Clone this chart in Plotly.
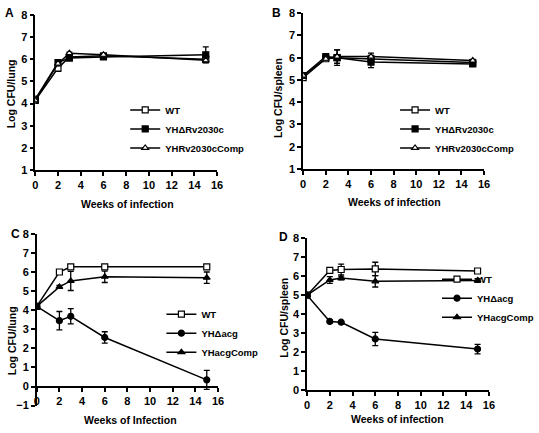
import plotly.graph_objects as go

weeks = [0, 2, 3, 6, 15]

# Panel A (lung)
a_wt = [4.15, 5.6, 6.1, 6.15, 6.0]
a_wt_err = [0.05, 0.15, 0.05, 0.08, 0.15]
a_del = [4.2, 5.85, 6.05, 6.1, 6.2]
a_del_err = [0.05, 0.08, 0.05, 0.05, 0.35]
a_comp = [4.15, 5.8, 6.27, 6.2, 5.95]
a_comp_err = [0.05, 0.1, 0.05, 0.05, 0.1]

# Panel B (spleen)
b_wt = [5.1, 5.95, 6.0, 5.95, 5.78]
b_wt_err = [0.05, 0.05, 0.35, 0.15, 0.05]
b_del = [5.2, 6.05, 6.0, 5.8, 5.72]
b_del_err = [0.05, 0.05, 0.1, 0.25, 0.05]
b_comp = [5.2, 5.95, 6.05, 6.05, 5.87]
b_comp_err = [0.05, 0.05, 0.3, 0.15, 0.05]

# Panel C (lung)
c_wt = [4.2, 6.0, 6.27, 6.27, 6.27]
c_wt_err = [0.05, 0.05, 0.05, 0.05, 0.1]
c_del = [4.2, 3.45, 3.68, 2.57, 0.35]
c_del_err = [0.05, 0.48, 0.4, 0.3, 0.5]
c_comp = [4.2, 5.22, 5.53, 5.75, 5.7]
c_comp_err = [0.05, 0.08, 0.5, 0.3, 0.3]

# Panel D (spleen)
d_wt = [5.0, 6.3, 6.35, 6.38, 6.27]
d_wt_err = [0.05, 0.05, 0.28, 0.35, 0.1]
d_del = [5.0, 3.62, 3.58, 2.7, 2.17]
d_del_err = [0.05, 0.08, 0.05, 0.35, 0.25]
d_comp = [5.0, 5.8, 5.9, 5.73, 5.77]
d_comp_err = [0.05, 0.18, 0.1, 0.3, 0.1]

names_ab = ["WT", "YHΔRv2030c", "YHRv2030cComp"]
names_cd = ["WT", "YHΔacg", "YHacgComp"]

W, H = 539, 433
FONT = "Liberation Sans, Arial, sans-serif"

def fx(px):
    return px / W

def fy(py):
    return 1 - py / H

fig = go.Figure()

SYM_AB = [("square", "white"), ("square", "black"), ("triangle-up", "white")]
SYM_CD = [("square", "white"), ("circle", "black"), ("triangle-up", "black")]

panels = [
    dict(k="", xd=(33, 219), yd=(9, 169), yr=(1, 8), xpos=None,
         data=[(a_wt, a_wt_err), (a_del, a_del_err), (a_comp, a_comp_err)],
         names=names_ab, sym=SYM_AB, leg=(125, 92)),
    dict(k="2", xd=(307, 492), yd=(7.3, 167.7), yr=(1, 8), xpos=None,
         data=[(b_wt, b_wt_err), (b_del, b_del_err), (b_comp, b_comp_err)],
         names=names_ab, sym=SYM_AB, leg=(401, 92)),
    dict(k="3", xd=(34.5, 220), yd=(234.3, 411), yr=(-1, 8), xpos=391.7,
         data=[(c_wt, c_wt_err), (c_del, c_del_err), (c_comp, c_comp_err)],
         names=names_cd, sym=SYM_CD, leg=(162, 302)),
    dict(k="4", xd=(311, 497), yd=(238.7, 395.3), yr=(0, 8), xpos=None,
         data=[(d_wt, d_wt_err), (d_del, d_del_err), (d_comp, d_comp_err)],
         names=names_cd, sym=SYM_CD, leg=(444, 266)),
]

axis_common = dict(
    showline=True, linecolor="black", linewidth=1.5, showgrid=False,
    zeroline=False, ticks="outside", ticklen=4, tickwidth=1.5, tickcolor="black",
    tickfont=dict(family=FONT, size=11, color="black", weight="bold"),
)

layout_upd = {}
for p in panels:
    k = p["k"]
    leg = "legend" + k if k else "legend"
    for (vals, err), nm, (sym, fill) in zip(p["data"], p["names"], p["sym"]):
        fig.add_trace(go.Scatter(
            x=weeks, y=vals, name=nm, mode="lines+markers",
            xaxis="x" + k, yaxis="y" + k, legend=leg,
            line=dict(color="black", width=1.5),
            marker=dict(symbol=sym, size=6, color=fill,
                        line=dict(color="black", width=1.2)),
            error_y=dict(type="data", array=err, visible=True, color="black",
                         thickness=1.3, width=3),
        ))
    xd = [fx(p["xd"][0]), fx(p["xd"][1])]
    yd = [fy(p["yd"][1]), fy(p["yd"][0])]
    xdict = dict(axis_common, domain=xd, range=[0, 16], dtick=2, tick0=0,
                 anchor="y" + k)
    if p["xpos"] is not None:
        xdict.update(anchor="free", position=fy(p["xpos"]))
    ydict = dict(axis_common, domain=yd, range=list(p["yr"]), dtick=1,
                 anchor="x" + k)
    layout_upd["xaxis" + k] = xdict
    layout_upd["yaxis" + k] = ydict
    layout_upd[leg] = dict(
        x=fx(p["leg"][0]), y=fy(p["leg"][1]), xanchor="left", yanchor="top",
        xref="paper", yref="paper", bgcolor="rgba(0,0,0,0)",
        font=dict(family=FONT, size=9.5, color="black", weight="bold"),
        tracegroupgap=0, itemwidth=30,
    )

fig.update_layout(**layout_upd)

annotations = []
for txt, x, y in [("A", 7, 7), ("B", 280, 7), ("C", 12.5, 234), ("D", 287, 238)]:
    annotations.append(dict(text=txt, x=fx(x), y=fy(y), xref="paper", yref="paper",
                            showarrow=False, xanchor="center", yanchor="middle",
                            font=dict(family=FONT, size=12, color="black", weight="bold")))
for txt, x, y, ang in [
    ("Log CFU/lung", 8, 90, -90), ("Log CFU/spleen", 282, 95, -90),
    ("Log CFU/lung", 10, 344, -90), ("Log CFU/spleen", 287, 321, -90),
    ("Weeks of infection", 127, 204, 0), ("Weeks of infection", 400, 202, 0),
    ("Weeks of Infection", 130, 426, 0), ("Weeks of infection", 403, 425, 0),
]:
    annotations.append(dict(text=txt, x=fx(x), y=fy(y), xref="paper", yref="paper",
                            showarrow=False, xanchor="center", yanchor="middle",
                            textangle=ang,
                            font=dict(family=FONT, size=10.5, color="black", weight="bold")))

fig.update_layout(
    width=W, height=H, margin=dict(l=0, r=0, t=0, b=0),
    paper_bgcolor="white", plot_bgcolor="white",
    annotations=annotations, showlegend=True,
)

fig.write_html("out.html", config={"displayModeBar": False},
               post_script="document.body.style.margin='0';document.body.style.padding='0';")
